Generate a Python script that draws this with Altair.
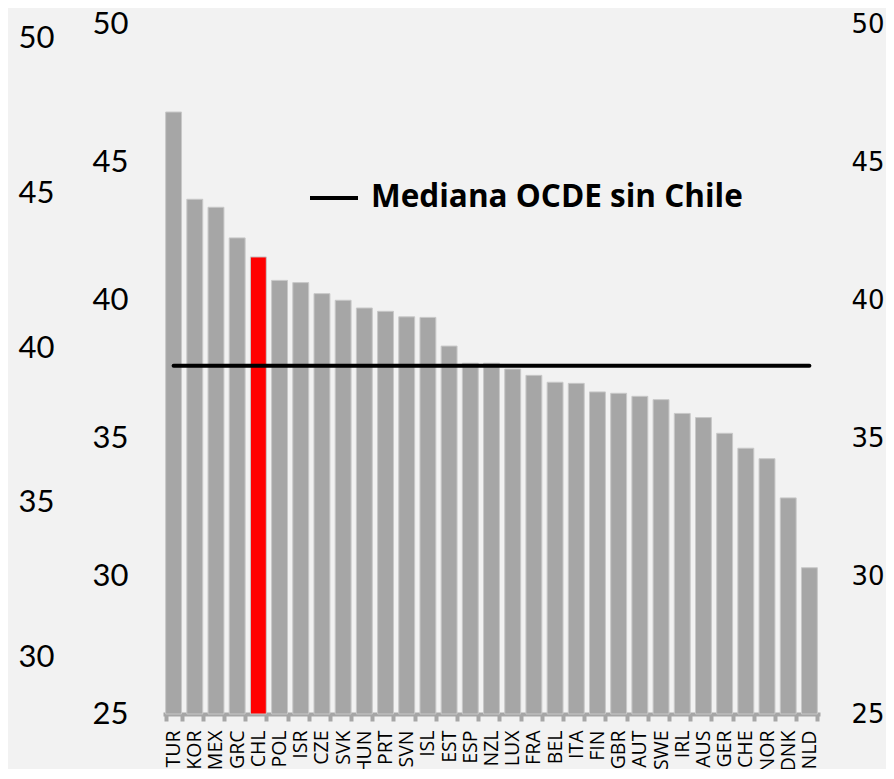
import altair as alt
import pandas as pd

countries = ["TUR", "KOR", "MEX", "GRC", "CHL", "POL", "ISR", "CZE", "SVK", "HUN",
             "PRT", "SVN", "ISL", "EST", "ESP", "NZL", "LUX", "FRA", "BEL", "ITA",
             "FIN", "GBR", "AUT", "SWE", "IRL", "AUS", "GER", "CHE", "NOR", "DNK", "NLD"]
values = [46.81, 43.65, 43.36, 42.25, 41.56, 40.71, 40.63, 40.23, 39.99, 39.71,
          39.59, 39.39, 39.37, 38.33, 37.71, 37.71, 37.50, 37.27, 37.02, 36.98,
          36.67, 36.62, 36.51, 36.39, 35.89, 35.74, 35.17, 34.63, 34.25, 32.83, 30.30]
median_value = 37.62
highlight = "CHL"
legend_label = "Mediana OCDE sin Chile"
main_ticks = [25, 30, 35, 40, 45, 50]
ghost_ticks = [30, 35, 40, 45, 50]

df = pd.DataFrame({"country": countries, "value": values})
base = alt.Chart(df)

x_enc = alt.X("country:N", sort=countries,
              scale=alt.Scale(paddingInner=0.25, paddingOuter=0.125),
              axis=alt.Axis(title=None, labelAngle=270, labelAlign="right",
                            labelBaseline="middle", labelFont="Open Sans", labelFontSize=19.5,
                            labelColor="black", labelPadding=9,
                            domainColor="#a6a6a6", domainWidth=4,
                            tickColor="#a6a6a6", tickWidth=4, tickSize=7,
                            tickBand="extent", grid=False))

bars = base.mark_bar(stroke="#c8c8c8", strokeWidth=1).encode(
    x=x_enc,
    y=alt.Y("value:Q", scale=alt.Scale(domain=[25, 50], nice=False, zero=False),
            axis=alt.Axis(orient="left", title=None, domain=False, ticks=False,
                          tickSize=0, grid=False, values=main_ticks, labelPadding=35,
                          labelFont="Lato", labelFontSize=31, labelColor="black")),
    y2=alt.datum(25),
    color=alt.condition(alt.datum.country == highlight, alt.value("#ff0000"),
                        alt.value("#a6a6a6")),
)

median = base.mark_line(color="black", strokeWidth=4, strokeCap="round").encode(
    x=alt.X("country:N", sort=countries),
    y=alt.datum(median_value),
)

main = alt.layer(bars, median)

ghost = base.mark_point(opacity=0, size=1).encode(
    y=alt.Y("value:Q", scale=alt.Scale(domain=[28.17, 50.485], nice=False, zero=False),
            axis=alt.Axis(orient="left", title=None, domain=False, ticks=False,
                          tickSize=0, grid=False, values=ghost_ticks, labelPadding=109,
                          labelFont="Lato", labelFontSize=31, labelColor="black")),
)

right = base.mark_point(opacity=0, size=1).encode(
    y=alt.Y("value:Q", scale=alt.Scale(domain=[25, 50], nice=False, zero=False),
            axis=alt.Axis(orient="right", title=None, domain=False, ticks=False,
                          tickSize=0, grid=False, values=main_ticks, labelPadding=31,
                          labelFont="DejaVu Sans", labelFontSize=26, labelColor="black")),
)

leg_line = alt.Chart(pd.DataFrame({"k": [0]})).mark_rule(color="black", strokeWidth=4).encode(
    x=alt.value(147), x2=alt.value(195), y=alt.value(174))
leg_text = alt.Chart(pd.DataFrame({"k": [0]})).mark_text(
    align="left", baseline="middle", font="Open Sans", fontSize=31.5, fontWeight="bold",
    color="black").encode(x=alt.value(208), y=alt.value(174), text=alt.value(legend_label))

chart = alt.layer(main, ghost, right, leg_line, leg_text).resolve_scale(
    y="independent"
).properties(
    width=657, height=690,
    autosize=alt.AutoSizeParams(type="none"),
    padding={"left": 155, "top": 16, "right": 66, "bottom": 55},
    background="#f2f2f2",
).configure_view(stroke=None)

chart.save("out.html", embed_options={"renderer": "svg", "actions": False})
